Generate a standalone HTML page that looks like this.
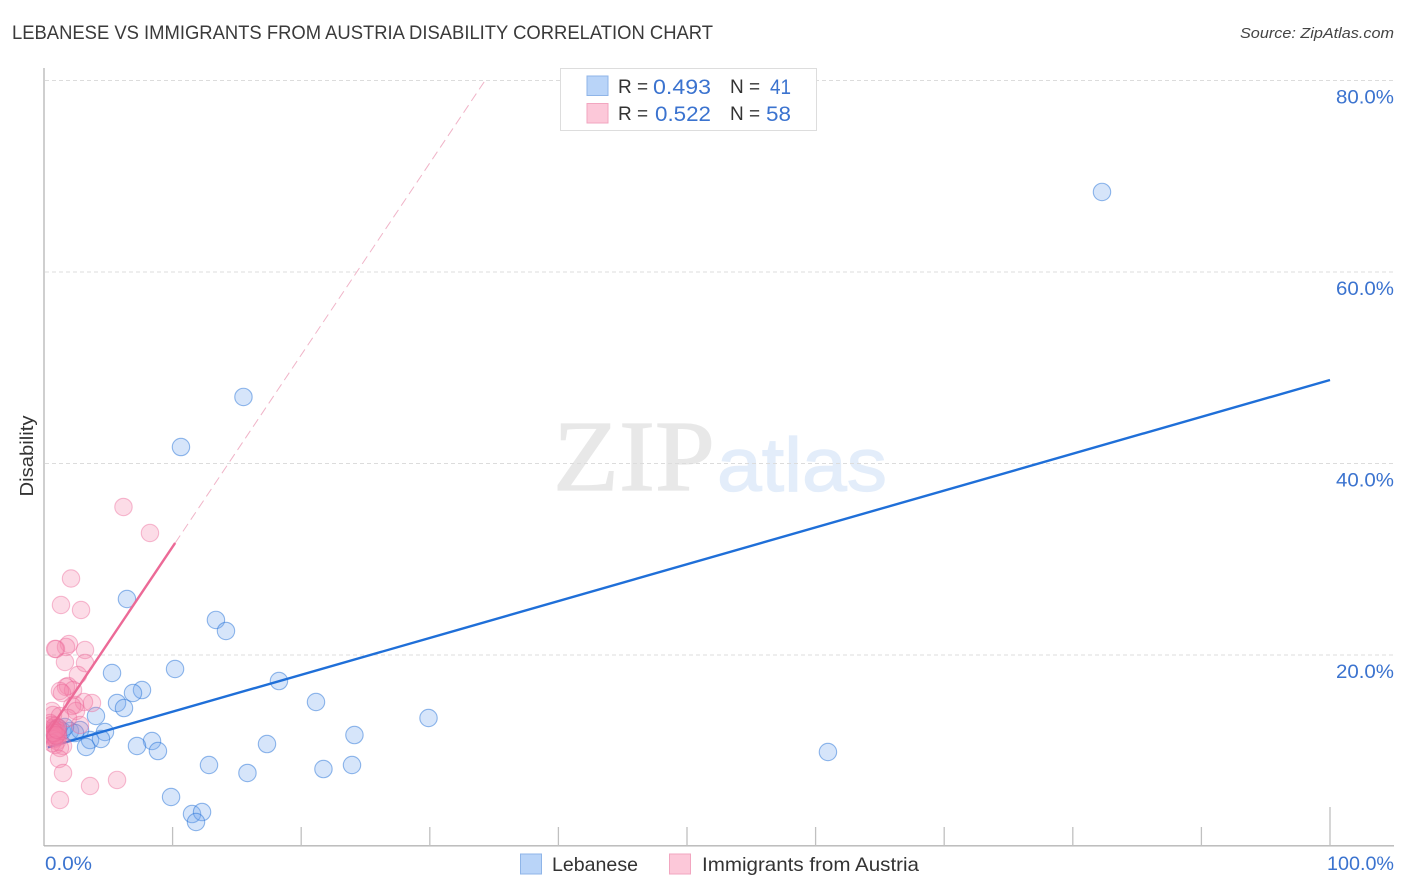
<!DOCTYPE html>
<html>
<head>
<meta charset="utf-8">
<title>Lebanese vs Immigrants from Austria Disability Correlation Chart</title>
<style>
html,body{margin:0;padding:0;background:#fff;width:1406px;height:892px;overflow:hidden}
svg{display:block}
text{font-family:"Liberation Sans",sans-serif}
</style>
</head>
<body>
<svg id="chart" width="1406" height="892" viewBox="0 0 1406 892">
  <defs><clipPath id="plot-clip"><rect x="46" y="60" width="1350" height="786"/></clipPath></defs>
  <text x="12" y="39" font-size="19" fill="#3a3a3a" textLength="701" lengthAdjust="spacingAndGlyphs">LEBANESE VS IMMIGRANTS FROM AUSTRIA DISABILITY CORRELATION CHART</text>
  <text x="1394" y="38" font-size="15" font-style="italic" fill="#444" text-anchor="end" textLength="154" lengthAdjust="spacingAndGlyphs">Source: ZipAtlas.com</text>

  <g>
    <text x="553" y="490" font-size="101" fill="#e8e8e8" stroke="#e8e8e8" stroke-width="1.2" style="font-family:'Liberation Serif',serif" textLength="162" lengthAdjust="spacingAndGlyphs">ZIP</text>
    <text x="717" y="491" font-size="76" fill="#e3edfa" stroke="#e3edfa" stroke-width="1.2" textLength="170" lengthAdjust="spacingAndGlyphs">atlas</text>
  </g>

  <g id="grid"></g>
  <g id="axes"></g>
  <g id="blue-points"></g>
  <g id="blue-trend"></g>
  <g id="pink-points" clip-path="url(#plot-clip)"></g>
  <g id="trends"></g>
  <g id="labels"></g>

  <text transform="translate(33,456) rotate(-90)" font-size="18" fill="#333" text-anchor="middle" textLength="81" lengthAdjust="spacingAndGlyphs">Disability</text>

  <g>
    <rect x="560.5" y="68.5" width="256" height="62" fill="#fff" stroke="#ddd"/>
    <rect x="587" y="76" width="21" height="19.5" fill="#b9d4f8" stroke="#8fb5e8"/>
    <rect x="587" y="103.5" width="21" height="19.5" fill="#fcc8d9" stroke="#f2a6c0"/>
    <text x="618" y="93" font-size="19" fill="#333">R =</text>
    <text x="653" y="94" font-size="21.5" fill="#3b73cf" textLength="58" lengthAdjust="spacingAndGlyphs">0.493</text>
    <text x="730" y="93" font-size="19" fill="#333">N =</text>
    <text x="770" y="94" font-size="21.5" fill="#3b73cf" textLength="21" lengthAdjust="spacingAndGlyphs">41</text>
    <text x="618" y="120" font-size="19" fill="#333">R =</text>
    <text x="655" y="121" font-size="21.5" fill="#3b73cf" textLength="56" lengthAdjust="spacingAndGlyphs">0.522</text>
    <text x="730" y="120" font-size="19" fill="#333">N =</text>
    <text x="766" y="121" font-size="21.5" fill="#3b73cf" textLength="25" lengthAdjust="spacingAndGlyphs">58</text>
  </g>

  <g>
    <rect x="520.5" y="854" width="21" height="20" fill="#b9d4f8" stroke="#8fb5e8"/>
    <text x="552" y="871" font-size="19.5" fill="#333" textLength="86" lengthAdjust="spacingAndGlyphs">Lebanese</text>
    <rect x="669.5" y="854" width="21" height="20" fill="#fcc8d9" stroke="#f2a6c0"/>
    <text x="702" y="871" font-size="19.5" fill="#333" textLength="217" lengthAdjust="spacingAndGlyphs">Immigrants from Austria</text>
  </g>
</svg>
<script>
const xTicks = [0,10,20,30,40,50,60,70,80,90,100];
const yTicks = [20,40,60,80];
const yTickLabels = ['20.0%','40.0%','60.0%','80.0%'];
const xTickLabels = ['0.0%','100.0%'];

const lebaneseX = [82.27,15.51,10.65,6.45,13.37,14.15,5.29,10.19,18.27,7.62,6.92,5.68,6.22,21.15,4.04,29.90,4.74,24.14,8.40,7.23,8.86,17.34,3.58,3.27,4.43,60.96,12.83,15.82,21.73,23.95,9.88,11.51,12.29,11.82,2.02,2.80,1.40,2.41,0.86,1.63,1.09];
const lebaneseY = [68.36,46.95,41.72,25.85,23.66,22.51,18.12,18.54,17.28,16.34,16.03,14.99,14.46,15.09,13.63,13.42,11.96,11.64,11.02,10.50,9.97,10.70,11.12,10.39,11.23,9.87,8.51,7.68,8.09,8.51,5.17,3.39,3.60,2.56,12.06,12.17,12.06,11.85,11.64,12.48,12.38];

const austriaX = [6.18,8.24,2.10,1.32,2.88,1.94,1.71,0.93,0.86,3.19,1.63,3.19,2.64,1.87,1.71,2.26,1.24,1.40,3.73,3.11,2.41,2.18,2.49,0.62,0.70,1.24,1.87,2.80,0.47,0.62,0.86,1.09,0.62,0.78,0.93,0.70,1.09,0.62,1.01,0.70,0.86,0.62,1.09,0.70,1.01,0.78,1.48,0.62,0.86,1.24,1.17,1.48,3.58,5.68,1.24,0.78,0.93,1.00];
const austriaY = [35.46,32.74,27.99,25.22,24.70,21.15,20.84,20.63,20.63,20.52,19.27,19.16,17.91,16.76,16.66,16.34,16.24,16.03,14.99,15.09,14.78,14.67,14.15,14.15,13.73,13.63,13.42,12.69,12.90,12.70,12.60,12.40,12.30,12.10,11.96,12.17,11.85,11.64,11.64,11.44,11.33,11.70,11.44,11.90,11.00,11.20,10.50,10.81,10.60,10.29,9.14,7.68,6.32,6.95,4.86,11.85,11.60,12.20];

const lebaneseTrendX = [0.3,100];
const lebaneseTrendY = [10.35,48.72];
const austriaTrendX = [0.3,10.2];
const austriaTrendY = [11.9,31.7];
const austriaExtensionX = [10.2,34.3];
const austriaExtensionY = [31.7,80];

const NS = 'http://www.w3.org/2000/svg';
const xScale = v => 44 + v * 12.86;
const yScale = v => 846.5 - v * 9.575;

function make(parentId, tag, attrs) {
  const el = document.createElementNS(NS, tag);
  for (const k in attrs) el.setAttribute(k, attrs[k]);
  document.getElementById(parentId).appendChild(el);
  return el;
}

yTicks.forEach(function (t) {
  const el = make('grid', 'line', {x1: 45, x2: 1394, y1: yScale(t), y2: yScale(t), stroke: '#dcdcdc', 'stroke-width': 1, 'stroke-dasharray': '4 3'});
  
  
});

const yAxis = make('axes', 'line', {x1: 44, x2: 44, y1: 68, y2: 846, stroke: '#b5b5b5', 'stroke-width': 1.3});


const xAxis = make('axes', 'line', {x1: 44, x2: 1394, y1: 845.8, y2: 845.8, stroke: '#b5b5b5', 'stroke-width': 1.3});



xTicks.forEach(function (t) {
  if (t === 0) return;
  const top = t === 100 ? 807 : 827;
  const el = make('axes', 'line', {x1: xScale(t), x2: xScale(t), y1: top, y2: 846, stroke: '#c0c0c0', 'stroke-width': 1.3});
  
  
});

lebaneseX.forEach(function (v, i) {
  const el = make('blue-points', 'circle', {cx: xScale(v), cy: yScale(lebaneseY[i]), r: 8.7, fill: 'rgba(120,170,240,0.30)', stroke: 'rgba(40,115,215,0.5)', 'stroke-width': 1.1});
  
  
});

const blueTrend = make('blue-trend', 'line', {x1: xScale(lebaneseTrendX[0]), y1: yScale(lebaneseTrendY[0]), x2: xScale(lebaneseTrendX[1]), y2: yScale(lebaneseTrendY[1]), stroke: '#1f6fd8', 'stroke-width': 2.4});



austriaX.forEach(function (v, i) {
  const el = make('pink-points', 'circle', {cx: xScale(v), cy: yScale(austriaY[i]), r: 8.7, fill: 'rgba(245,130,170,0.28)', stroke: 'rgba(235,100,150,0.42)', 'stroke-width': 1.1});
  
  
});

const pinkTrend = make('trends', 'line', {x1: xScale(austriaTrendX[0]), y1: yScale(austriaTrendY[0]), x2: xScale(austriaTrendX[1]), y2: yScale(austriaTrendY[1]), stroke: '#ec6a97', 'stroke-width': 2.4});


const pinkExt = make('trends', 'line', {x1: xScale(austriaExtensionX[0]), y1: yScale(austriaExtensionY[0]), x2: xScale(austriaExtensionX[1]), y2: yScale(austriaExtensionY[1]), stroke: '#f0b4c8', 'stroke-width': 1, 'stroke-dasharray': '9 5'});



yTicks.forEach(function (t, i) {
  const el = make('labels', 'text', {x: 1394, y: yScale(t) + 23, 'font-size': 19.5, fill: '#3b73cf', 'text-anchor': 'end', textLength: 58, lengthAdjust: 'spacingAndGlyphs'});
  el.textContent = yTickLabels[i];
  
  
});

const xLabelLeft = make('labels', 'text', {x: 45, y: 870, 'font-size': 19.5, fill: '#3b73cf', textLength: 47, lengthAdjust: 'spacingAndGlyphs'});
xLabelLeft.textContent = xTickLabels[0];


const xLabelRight = make('labels', 'text', {x: 1394, y: 870, 'font-size': 19.5, fill: '#3b73cf', 'text-anchor': 'end', textLength: 67, lengthAdjust: 'spacingAndGlyphs'});
xLabelRight.textContent = xTickLabels[1];


</script>
</body>
</html>
